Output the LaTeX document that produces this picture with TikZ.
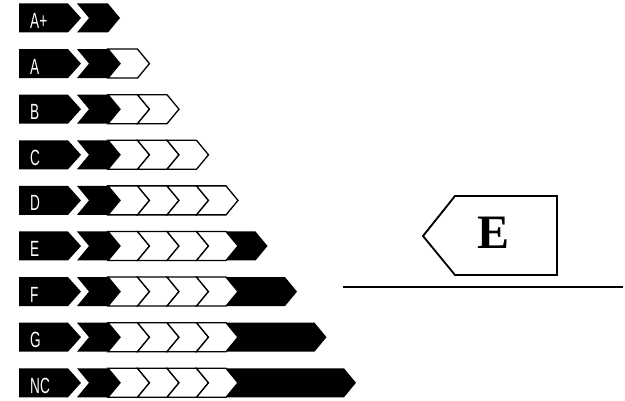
\documentclass[tikz,border=0pt]{standalone}
\usepackage{fontspec}
\setmainfont{Liberation Serif}
\setsansfont{Liberation Sans}
\begin{document}
\begin{tikzpicture}[x=1pt,y=-1pt,line join=miter,
  chevw/.style={draw=black,fill=white,line width=1.3pt},
  labtext/.style={anchor=base west,text=white,inner sep=0pt,font=\sffamily\fontsize{22}{22}\selectfont}]
\useasboundingbox[fill=white] (0,0) rectangle (625,401);
\def\hh{14.5}
\foreach \i/\lab in {0/A+,1/A,2/B,3/C,4/D,5/E,6/F,7/G,8/NC}{
  \pgfmathsetmacro\c{18+45.6*\i}
  % label box
  \fill (19,\c-\hh) -- (68,\c-\hh) -- (81,\c) -- (68,\c+\hh) -- (19,\c+\hh) -- cycle;
  \node[labtext] (lab\i) at (30,\c+10.5) {\scalebox{0.62}[1]{\lab}};
  % first black chevron
  \fill (77,\c-\hh) -- (108,\c-\hh) -- (120,\c) -- (108,\c+\hh) -- (77,\c+\hh) -- (89,\c) -- cycle;
  % white chevrons
  \foreach \k in {1,...,4}{
    \ifnum\k>\i\relax\else
      \pgfmathsetmacro\L{108+29.5*(\k-1)}
      \pgfmathsetmacro\R{\L+29.5}
      \draw[chevw] (\L,\c-\hh) -- (\R,\c-\hh) -- (\R+12,\c) -- (\R,\c+\hh) -- (\L,\c+\hh) -- (\L+12,\c) -- cycle;
    \fi
  }
  % black tail
  \ifnum\i>4\relax
    \pgfmathsetmacro\R{108+29.5*\i}
    \fill (226,\c-\hh) -- (\R,\c-\hh) -- (\R+12,\c) -- (\R,\c+\hh) -- (226,\c+\hh) -- (238,\c) -- cycle;
  \fi
}
% rating tag
\draw[line width=1.8pt] (455,196) -- (557,196) -- (557,275) -- (455,275) -- (423,236) -- cycle;
\node[inner sep=0pt,font=\rmfamily\bfseries\fontsize{48}{48}\selectfont] (grade) at (494,233) {E};
\draw[line width=2.5pt] (343,287) -- (623,287);
\end{tikzpicture}
\end{document}
